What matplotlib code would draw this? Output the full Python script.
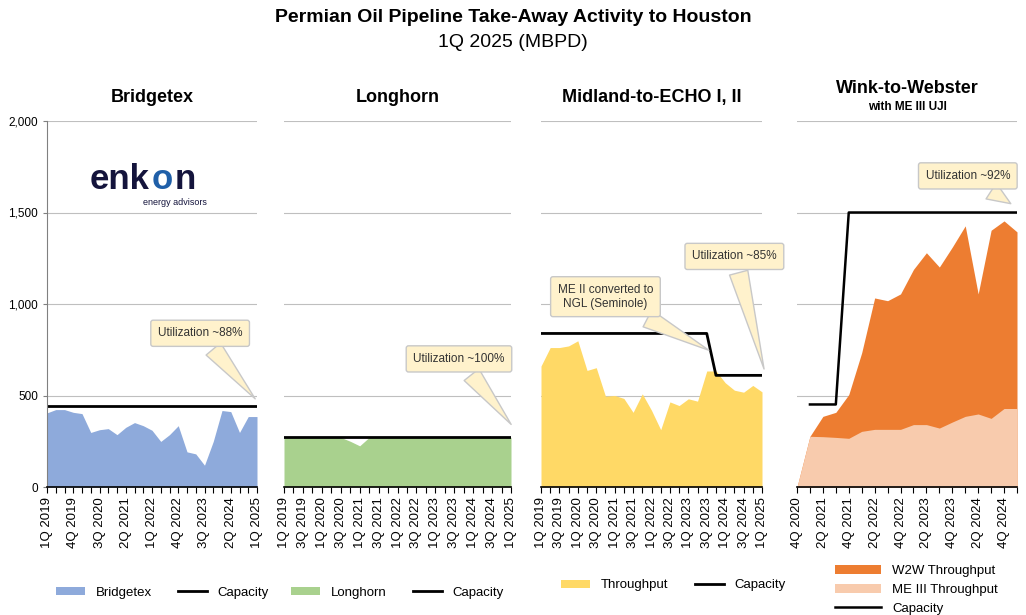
import matplotlib
matplotlib.use("Agg")
import matplotlib.pyplot as plt
import numpy as np

plt.rcParams['font.family'] = ['Liberation Sans', 'DejaVu Sans']

def qlabels(start_q, start_y, n):
    out = []
    q, y = start_q, start_y
    for _ in range(n):
        out.append(f"{q}Q {y}")
        q += 1
        if q > 4:
            q = 1; y += 1
    return out

q19 = qlabels(1, 2019, 25)
q20 = qlabels(4, 2020, 18)

bridgetex = [405, 423, 423, 408, 401, 298, 313, 319, 286, 326, 352, 335, 310, 249, 286, 335,
             192, 181, 119, 249, 418, 412, 298, 385, 385]
bridgetex_cap = [440] * 25
longhorn = [271, 271, 271, 271, 271, 271, 271, 250, 225, 271, 271, 271, 271, 271, 271, 271,
            271, 271, 271, 271, 271, 271, 271, 271, 271]
longhorn_cap = [271] * 25
midland = [661, 762, 762, 771, 799, 637, 652, 496, 500, 484, 408, 509, 419, 313, 465, 445,
           482, 469, 634, 634, 570, 529, 518, 555, 520]
midland_cap = [839] * 19 + [610] * 6
w2w_total = [0, 277, 386, 408, 505, 734, 1033, 1018, 1055, 1189, 1280, 1202, 1311, 1427,
             1055, 1403, 1454, 1394]
me3 = [0, 277, 275, 271, 266, 304, 315, 315, 315, 341, 341, 322, 355, 386, 399, 375, 429, 429]
w2w_cap = [np.nan, 451, 451, 451, 1500, 1500, 1500, 1500, 1500, 1500, 1500, 1500, 1500, 1500,
           1500, 1500, 1500, 1500]

fig = plt.figure(figsize=(10.26, 6.15), dpi=100)
fig.text(0.5, 0.985, "Permian Oil Pipeline Take-Away Activity to Houston", ha='center', va='top',
         fontsize=14, fontweight='bold')
fig.text(0.5, 0.945, "1Q 2025 (MBPD)", ha='center', va='top', fontsize=14)

W, H = 1026, 615
def mkax(x0, x1):
    return fig.add_axes([x0 / W, (H - 487) / H, (x1 - x0) / W, 366 / H])

callout_kw = dict(fontsize=8.5, color='#333333', ha='center', va='center', annotation_clip=False,
                  bbox=dict(boxstyle='round,pad=0.6,rounding_size=0.2', fc='#fff2cc', ec='#c8c8c8', lw=1))
arrow_kw = dict(arrowstyle='wedge,tail_width=1.6,shrink_factor=0.5', fc='#fff2cc', ec='#c8c8c8', lw=1)

def style(ax, n, labels, step, first=False):
    ax.set_ylim(0, 2000)
    ax.set_xlim(0, n - 1)
    ax.set_yticks([0, 500, 1000, 1500, 2000])
    ax.grid(axis='y', color='#bfbfbf', lw=0.8)
    ax.set_axisbelow(True)
    ax.set_xticks(range(n))
    ax.set_xticklabels([labels[i] if i % step == 0 else '' for i in range(n)], rotation=90, fontsize=9.5)
    ax.tick_params(axis='x', length=4, direction='out')
    for s in ['top', 'right']:
        ax.spines[s].set_visible(False)
    ax.spines['bottom'].set_linewidth(1.2)
    if first:
        ax.set_yticklabels(['0', '500', '1,000', '1,500', '2,000'], fontsize=8.5)
        ax.spines['left'].set_color('#808080')
        ax.tick_params(axis='y', length=3, color='#808080')
    else:
        ax.spines['left'].set_visible(False)
        ax.tick_params(axis='y', length=0, labelleft=False)

leg_kw = dict(frameon=False, fontsize=9.5, handlelength=2.2, handleheight=0.6)

# Bridgetex
ax = mkax(47, 257)
x = np.arange(25)
ax.fill_between(x, bridgetex, color='#8eaadb', lw=0, label='Bridgetex')
ax.plot(x, bridgetex_cap, color='black', lw=2, label='Capacity')
style(ax, 25, q19, 3, first=True)
ax.set_title("Bridgetex", fontsize=13, fontweight='bold', pad=14)
ax.annotate("Utilization ~88%", xy=(24, 470), xytext=(17.5, 840), arrowprops=arrow_kw, **callout_kw)
ax.text(0.49, 0.84, "enk", transform=ax.transAxes, fontsize=25, fontweight='bold', color='#14143c', ha='right', va='center')
ax.text(0.61, 0.84, "n", transform=ax.transAxes, fontsize=25, fontweight='bold', color='#14143c', ha='left', va='center')
ax.text(0.55, 0.84, "o", transform=ax.transAxes, fontsize=25, fontweight='bold', color='#1f5fa8', ha='center', va='center')
ax.text(0.76, 0.77, "energy advisors", transform=ax.transAxes, fontsize=6.5, color='#14143c', ha='right')
ax.legend(loc='upper center', bbox_to_anchor=(0.55, -0.24), ncol=2, **leg_kw)

# Longhorn
ax = mkax(284, 511)
ax.fill_between(x, longhorn, color='#a9d18e', lw=0, label='Longhorn')
ax.plot(x, longhorn_cap, color='black', lw=2, label='Capacity')
style(ax, 25, q19, 2)
ax.set_title("Longhorn", fontsize=13, fontweight='bold', pad=14)
ax.annotate("Utilization ~100%", xy=(24.2, 330), xytext=(18.5, 700), arrowprops=arrow_kw, **callout_kw)
ax.legend(loc='upper center', bbox_to_anchor=(0.5, -0.24), ncol=2, **leg_kw)

# Midland-to-ECHO
ax = mkax(541, 762)
ax.fill_between(x, midland, color='#ffd966', lw=0, label='Throughput')
ax.plot(x, midland_cap, color='black', lw=2, label='Capacity')
style(ax, 25, q19, 2)
ax.set_title("Midland-to-ECHO I, II", fontsize=13, fontweight='bold', pad=14)
ax.annotate("Utilization ~85%", xy=(24.3, 630), xytext=(21, 1260), arrowprops=arrow_kw, **callout_kw)
ax.annotate("ME II converted to\nNGL (Seminole)", xy=(18.5, 740), xytext=(7, 1040),
            arrowprops=arrow_kw, **callout_kw)
ax.legend(loc='upper center', bbox_to_anchor=(0.6, -0.22), ncol=2, **leg_kw)

# Wink-to-Webster
ax = mkax(797, 1017)
x2 = np.arange(18)
ax.fill_between(x2, w2w_total, color='#ed7d31', lw=0, label='W2W Throughput')
ax.fill_between(x2, me3, color='#f8cbad', lw=0, label='ME III Throughput')
ax.plot(x2, w2w_cap, color='black', lw=1.8, label='Capacity')
style(ax, 18, q20, 2)
ax.set_title("Wink-to-Webster", fontsize=13, fontweight='bold', pad=20)
ax.text(0.5, 1.03, "with ME III UJI", transform=ax.transAxes, ha='center', fontsize=8.5, fontweight='bold')
ax.annotate("Utilization ~92%", xy=(16.7, 1540), xytext=(13.2, 1700), arrowprops=arrow_kw, **callout_kw)
ax.legend(loc='upper left', bbox_to_anchor=(0.12, -0.18), ncol=1, frameon=False, fontsize=9.5,
          handlelength=3.5, handleheight=0.7, labelspacing=0.5)

fig.savefig("out.png", dpi=100)
